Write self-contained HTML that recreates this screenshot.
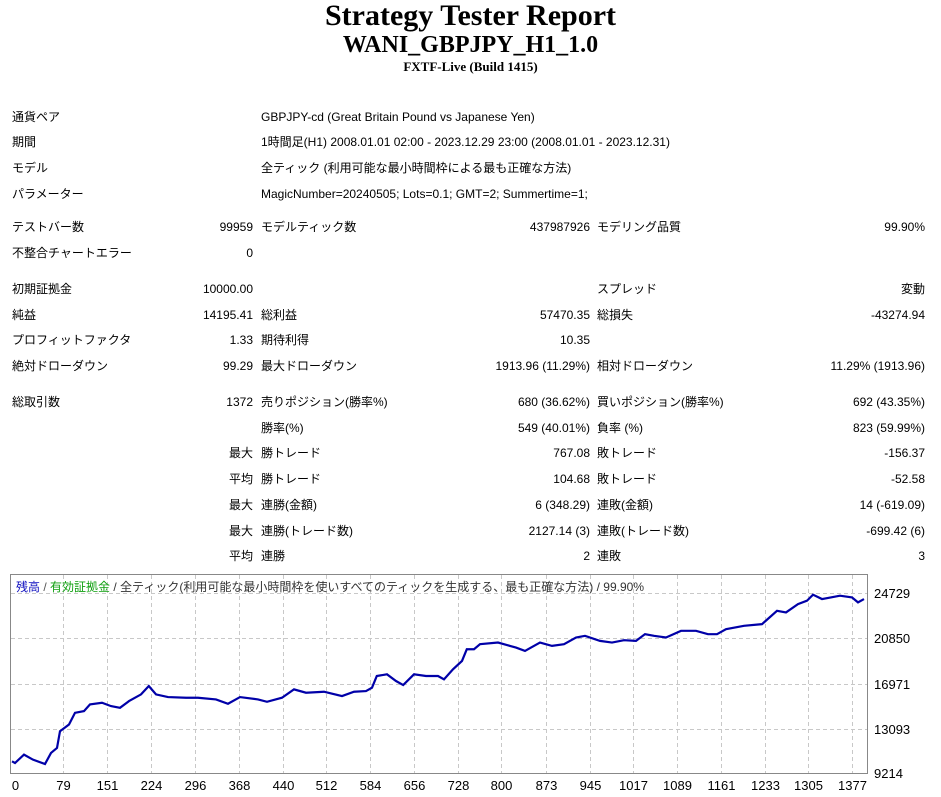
<!DOCTYPE html>
<html><head><meta charset="utf-8"><style>
body{margin:0;width:941px;height:797px;background:#fff;position:relative;overflow:hidden;font-family:"Liberation Sans","Noto Sans CJK JP",sans-serif;font-size:12px;color:#000}
.t{position:absolute;white-space:nowrap;line-height:14px}
.r{text-align:right}
h1,h2,h3{position:absolute;left:0;width:941px;text-align:center;margin:0;font-family:"Liberation Serif","Noto Serif CJK SC",serif;font-weight:bold}
</style></head><body>
<h1 style="top:-1px;font-size:30px;line-height:34px">Strategy Tester Report</h1>
<h2 style="top:31px;font-size:24px;line-height:28px">WANI_GBPJPY_H1_1.0</h2>
<h3 style="top:59px;font-size:13px;line-height:16px">FXTF-Live (Build 1415)</h3>
<div id="rows"></div>
<script>
var R=[
[110,"通貨ペア",null,"GBPJPY-cd (Great Britain Pound vs Japanese Yen)"],
[135,"期間",null,"1時間足(H1) 2008.01.01 02:00 - 2023.12.29 23:00 (2008.01.01 - 2023.12.31)"],
[161,"モデル",null,"全ティック (利用可能な最小時間枠による最も正確な方法)"],
[187,"パラメーター",null,"MagicNumber=20240505; Lots=0.1; GMT=2; Summertime=1;"],
[220,"テストバー数","99959","モデルティック数","437987926","モデリング品質","99.90%"],
[246,"不整合チャートエラー","0"],
[282,"初期証拠金","10000.00","","","スプレッド","変動"],
[308,"純益","14195.41","総利益","57470.35","総損失","-43274.94"],
[333,"プロフィットファクタ","1.33","期待利得","10.35"],
[359,"絶対ドローダウン","99.29","最大ドローダウン","1913.96 (11.29%)","相対ドローダウン","11.29% (1913.96)"],
[395,"総取引数","1372","売りポジション(勝率%)","680 (36.62%)","買いポジション(勝率%)","692 (43.35%)"],
[421,"","","勝率(%)","549 (40.01%)","負率 (%)","823 (59.99%)"],
[446,"","最大","勝トレード","767.08","敗トレード","-156.37"],
[472,"","平均","勝トレード","104.68","敗トレード","-52.58"],
[498,"","最大","連勝(金額)","6 (348.29)","連敗(金額)","14 (-619.09)"],
[524,"","最大","連勝(トレード数)","2127.14 (3)","連敗(トレード数)","-699.42 (6)"],
[549,"","平均","連勝","2","連敗","3"]];
var h="";
R.forEach(function(r){var y=r[0];
h+='<div class="t" style="left:12px;top:'+y+'px">'+r[1]+'</div>';
if(r[2]!==null&&r[2]!==undefined)h+='<div class="t r" style="left:100px;width:153px;top:'+y+'px">'+r[2]+'</div>';
if(r[2]===null){h+='<div class="t" style="left:261px;top:'+y+'px">'+r[3]+'</div>';return;}
if(r[3])h+='<div class="t" style="left:261px;top:'+y+'px">'+r[3]+'</div>';
if(r[4])h+='<div class="t r" style="left:440px;width:150px;top:'+y+'px">'+r[4]+'</div>';
if(r[5])h+='<div class="t" style="left:597px;top:'+y+'px">'+r[5]+'</div>';
if(r[6])h+='<div class="t r" style="left:775px;width:150px;top:'+y+'px">'+r[6]+'</div>';
});
document.getElementById("rows").innerHTML=h;
</script>
<svg style="position:absolute;left:0;top:0" width="941" height="797">
<rect x="10.5" y="574.5" width="857" height="199" fill="none" stroke="#888"/>
<g stroke="#c8c8c8" stroke-dasharray="4,3" stroke-width="1">
<line x1="11" x2="867" y1="593.5" y2="593.5"/><line x1="11" x2="867" y1="638.5" y2="638.5"/><line x1="11" x2="867" y1="684.5" y2="684.5"/><line x1="11" x2="867" y1="729.5" y2="729.5"/>
<g id="vg"></g>
</g>
<g font-family="Liberation Sans, sans-serif" font-size="13" fill="#000">
<text x="874" y="598">24729</text><text x="874" y="643">20850</text><text x="874" y="689">16971</text><text x="874" y="734">13093</text><text x="874" y="778">9214</text>
<g id="xl" text-anchor="middle"></g>
</g>
<text x="16" y="591" font-size="12" font-family="Liberation Sans, Noto Sans CJK JP, sans-serif"><tspan fill="#1010c0">残高</tspan><tspan fill="#555"> / </tspan><tspan fill="#10a010">有効証拠金</tspan><tspan fill="#333"> / 全ティック(利用可能な最小時間枠を使いすべてのティックを生成する、最も正確な方法) / 99.90%</tspan></text>
<g transform="translate(0,570.6) scale(0.6,0.3346)">
<polyline fill="none" stroke="#0000a8" stroke-width="2.2" vector-effect="non-scaling-stroke" points="20,570 25,575 40,550 55,565 75,578 85,545 95,530 100,480 115,460 125,425 140,420 150,400 170,395 185,405 200,410 215,390 235,370 248,345 260,370 280,378 310,380 330,380 360,385 380,398 400,378 430,385 445,392 470,380 490,355 510,365 540,362 570,375 590,362 610,360 620,350 628,315 645,310 660,330 672,342 690,310 710,315 730,315 740,325 755,295 770,270 778,235 790,235 800,220 830,215 850,225 860,230 875,240 885,230 900,215 920,225 940,220 960,200 975,195 1000,210 1020,215 1040,208 1060,210 1075,190 1090,195 1110,200 1135,180 1160,180 1180,190 1195,190 1210,175 1240,165 1270,160 1295,120 1310,125 1330,100 1345,90 1355,72 1370,85 1400,75 1420,80 1430,95 1440,85"/>
</g>
</svg>
<script>
var L=[0,79,151,224,296,368,440,512,584,656,728,800,873,945,1017,1089,1161,1233,1305,1377];
var vg="",xl="";
L.forEach(function(n){var x=Math.round(15+n*0.608)+0.5;
if(n>0)vg+='<line x1="'+x+'" x2="'+x+'" y1="575" y2="773"/>';
xl+='<text x="'+x+'" y="790">'+n+'</text>';});
document.getElementById("vg").innerHTML=vg;
document.getElementById("xl").innerHTML=xl;
</script>
</body></html>
